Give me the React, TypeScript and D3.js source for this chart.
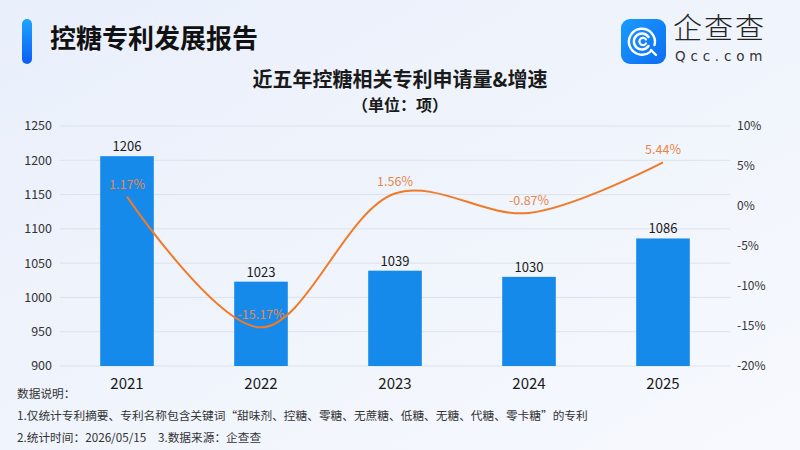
import * as d3 from 'd3'

const years = ['2021', '2022', '2023', '2024', '2025']
const counts = [1206, 1023, 1039, 1030, 1086]
const growth = [1.17, -15.17, 1.56, -0.87, 5.44]
const leftTicks = [900, 950, 1000, 1050, 1100, 1150, 1200, 1250]
const rightTicks = [-20, -15, -10, -5, 0, 5, 10]
const notes = [
  '数据说明：',
  '1.仅统计专利摘要、专利名称包含关键词“甜味剂、控糖、零糖、无蔗糖、低糖、无糖、代糖、零卡糖”的专利',
  '2.统计时间：2026/05/15　3.数据来源：企查查',
]

const W = 800
const H = 450
const FONT = '"Noto Sans CJK SC", "Noto Sans", sans-serif'
const plot = { left: 60, right: 730, top: 126, bottom: 366 }

const App = () => {
  const x = d3
    .scaleBand<string>()
    .domain(years)
    .range([plot.left, plot.right])
    .paddingInner(0.6)
    .paddingOuter(0.3)
  const yLeft = d3.scaleLinear().domain([900, 1250]).range([plot.bottom, plot.top])
  const yRight = d3.scaleLinear().domain([-20, 10]).range([plot.bottom, plot.top])
  const cx = (year: string) => (x(year) ?? 0) + x.bandwidth() / 2

  const line = d3
    .line<number>()
    .x((_, i) => cx(years[i]))
    .y((d) => yRight(d))
    .curve(d3.curveCatmullRom.alpha(0.5))

  return (
    <svg
      width={W}
      height={H}
      style={{ position: 'absolute', left: 0, top: 0, fontFamily: FONT }}
    >
      <defs>
        <linearGradient id="bg" x1="0" y1="0" x2="1" y2="1">
          <stop offset="0%" stopColor="#e9effb" />
          <stop offset="60%" stopColor="#f1f5fc" />
          <stop offset="100%" stopColor="#f7f9fe" />
        </linearGradient>
        <linearGradient id="accent" x1="0" y1="0" x2="0" y2="1">
          <stop offset="0%" stopColor="#1ea4ff" />
          <stop offset="100%" stopColor="#0a5df5" />
        </linearGradient>
        <linearGradient id="logo" x1="0" y1="0" x2="1" y2="1">
          <stop offset="0%" stopColor="#1a9bff" />
          <stop offset="100%" stopColor="#0b6cf2" />
        </linearGradient>
      </defs>
      <rect width={W} height={H} fill="url(#bg)" />

      {/* header */}
      <rect x={22} y={19} width={10} height={45} rx={5} fill="url(#accent)" />
      <text x={50} y={48} fontSize={26} fontWeight={700} fill="#111">
        控糖专利发展报告
      </text>

      {/* logo */}
      <g transform="translate(621,19)">
        <rect width={45} height={45} rx={9} fill="url(#logo)" />
        <path
          d="M 30.5 31.5 A 13 13 0 1 1 33.5 26"
          fill="none"
          stroke="#fff"
          strokeWidth={2.4}
          strokeLinecap="round"
        />
        <path d="M 30 31 L 35 36" stroke="#fff" strokeWidth={2.4} strokeLinecap="round" />
        <path
          d="M 27.5 27 A 8 8 0 1 1 27.5 18"
          fill="none"
          stroke="#fff"
          strokeWidth={2.4}
          strokeLinecap="round"
        />
        <path
          d="M 25 24.5 A 3.6 3.6 0 1 1 25 20.5"
          fill="none"
          stroke="#fff"
          strokeWidth={2.2}
          strokeLinecap="round"
        />
      </g>
      <text x={673} y={39} fontSize={29} fill="#222" fontWeight={300} letterSpacing={2}>
        企查查
      </text>
      <text
        x={675}
        y={61}
        fontSize={13.5}
        fill="#333"
        letterSpacing={4.8}
        fontFamily="'DejaVu Sans', sans-serif"
      >
        Qcc.com
      </text>

      {/* chart title */}
      <text x={400} y={87} textAnchor="middle" fontSize={20} fontWeight={700} fill="#1a1a1a">
        近五年控糖相关专利申请量&amp;增速
      </text>
      <text x={400} y={111} textAnchor="middle" fontSize={16} fontWeight={700} fill="#1a1a1a">
        （单位：项）
      </text>

      {/* grid + axes */}
      {leftTicks.map((t) => (
        <line
          key={t}
          x1={plot.left}
          x2={plot.right}
          y1={yLeft(t)}
          y2={yLeft(t)}
          stroke="#dde2ea"
          strokeWidth={1}
        />
      ))}
      {leftTicks.map((t) => (
        <text
          key={t}
          x={52}
          y={yLeft(t)}
          dy="0.35em"
          textAnchor="end"
          fontSize={12.5}
          fill="#333"
        >
          {t}
        </text>
      ))}
      {rightTicks.map((t) => (
        <text key={t} x={737} y={yRight(t)} dy="0.35em" fontSize={12} fill="#333">
          {`${t}%`}
        </text>
      ))}

      {/* bars */}
      {years.map((yr, i) => (
        <g key={yr}>
          <rect
            x={x(yr)}
            y={yLeft(counts[i])}
            width={x.bandwidth()}
            height={yLeft(900) - yLeft(counts[i])}
            fill="#168aea"
          />
          <text
            x={cx(yr)}
            y={yLeft(counts[i]) - 5}
            textAnchor="middle"
            fontSize={13}
            fill="#1a1a1a"
          >
            {counts[i]}
          </text>
          <text x={cx(yr)} y={389} textAnchor="middle" fontSize={15} fill="#1a1a1a">
            {yr}
          </text>
        </g>
      ))}

      {/* growth line */}
      <path d={line(growth) ?? ''} fill="none" stroke="#f07a28" strokeWidth={2} />
      {years.map((yr, i) => (
        <text
          key={yr}
          x={cx(yr)}
          y={yRight(growth[i]) - 8}
          textAnchor="middle"
          fontSize={12.5}
          fill="#e8864a"
        >
          {`${growth[i].toFixed(2)}%`}
        </text>
      ))}

      {/* notes */}
      {notes.map((n, i) => (
        <text key={i} x={17} y={398 + i * 22} fontSize={11.7} fill="#333">
          {n}
        </text>
      ))}
    </svg>
  )
}

export default App
